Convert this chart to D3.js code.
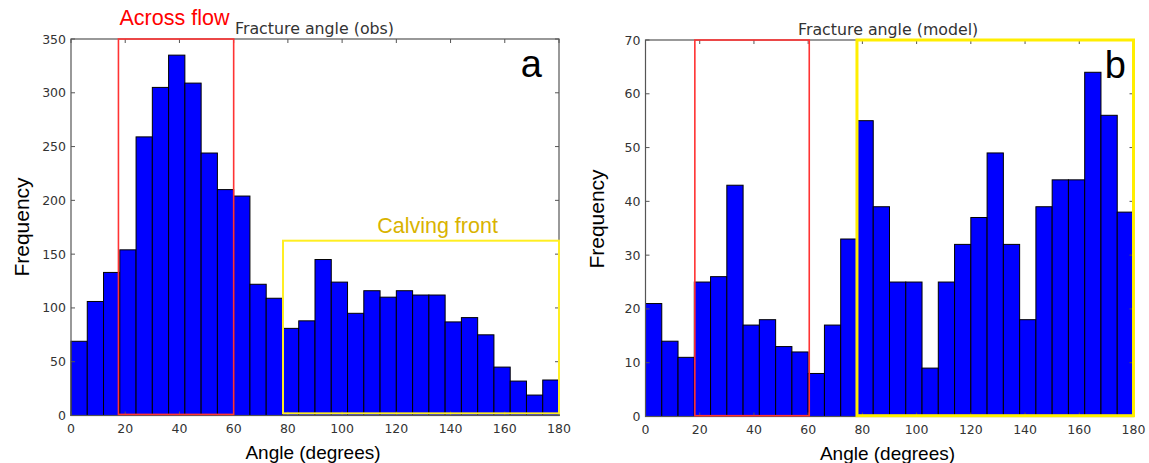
<!DOCTYPE html>
<html>
<head>
<meta charset="utf-8">
<script src="https://cdn.jsdelivr.net/npm/d3@7"></script>
<style>
  body { margin: 0; background: #fff; }
  svg text { font-family: "DejaVu Sans", sans-serif; }
</style>
</head>
<body>
<svg id="chart" width="1149" height="463"></svg>
<script>
// 30 bins of 6 degrees from 0 to 180
var binEdges = d3.range(0, 181, 6);
var obsCounts = [69, 106, 133, 154, 259, 305, 335, 309, 244, 210,
                 204, 122, 109, 81, 88, 145, 124, 95, 116, 110,
                 116, 112, 112, 87, 91, 75, 45, 32, 19, 33];
var modelCounts = [21, 14, 11, 25, 26, 43, 17, 18, 13, 12,
                   8, 17, 33, 55, 39, 25, 25, 9, 25, 32,
                   37, 49, 32, 18, 39, 44, 44, 64, 56, 38];
var xTicks = [0, 20, 40, 60, 80, 100, 120, 140, 160, 180];
var obsTicks = [0, 50, 100, 150, 200, 250, 300, 350];
var modelTicks = [0, 10, 20, 30, 40, 50, 60, 70];

var svg = d3.select("#chart");
var sansArial = "Liberation Sans, Arial, sans-serif";

function drawPanel(opt) {
  var m = opt.box;
  var x = d3.scaleLinear().domain([0, 180]).range([m.left, m.right]);
  var y = d3.scaleLinear().domain([0, opt.yMax]).range([m.bottom, m.top]);
  var g = svg.append("g");

  // bars
  g.selectAll("rect.bar")
    .data(opt.counts)
    .enter().append("rect")
    .attr("class", "bar")
    .attr("x", function (d, i) { return x(binEdges[i]); })
    .attr("width", function (d, i) { return x(binEdges[i + 1]) - x(binEdges[i]); })
    .attr("y", function (d) { return y(d); })
    .attr("height", function (d) { return y(0) - y(d); })
    .attr("fill", "#0000ff")
    .attr("stroke", "#000")
    .attr("stroke-width", 1);

  // frame
  g.append("rect")
    .attr("x", m.left).attr("y", m.top)
    .attr("width", m.right - m.left).attr("height", m.bottom - m.top)
    .attr("fill", "none").attr("stroke", "#555").attr("stroke-width", 1.2);

  // ticks pointing inward, all four sides
  var tl = 4;
  xTicks.forEach(function (t) {
    g.append("line").attr("x1", x(t)).attr("x2", x(t))
      .attr("y1", m.bottom).attr("y2", m.bottom - tl).attr("stroke", "#555");
    g.append("line").attr("x1", x(t)).attr("x2", x(t))
      .attr("y1", m.top).attr("y2", m.top + tl).attr("stroke", "#555");
    g.append("text").attr("x", x(t)).attr("y", m.bottom + 17)
      .attr("text-anchor", "middle").attr("font-size", 12.5)
      .attr("fill", "#333").text(t);
  });
  opt.yTicks.forEach(function (t) {
    g.append("line").attr("x1", m.left).attr("x2", m.left + tl)
      .attr("y1", y(t)).attr("y2", y(t)).attr("stroke", "#555");
    g.append("line").attr("x1", m.right).attr("x2", m.right - tl)
      .attr("y1", y(t)).attr("y2", y(t)).attr("stroke", "#555");
    g.append("text").attr("x", m.left - 5).attr("y", y(t) + 4.5)
      .attr("text-anchor", "end").attr("font-size", 12.5)
      .attr("fill", "#333").text(t);
  });

  // highlight boxes
  opt.boxes.forEach(function (b) {
    g.append("rect")
      .attr("x", x(b.x0)).attr("y", y(b.y1))
      .attr("width", x(b.x1) - x(b.x0)).attr("height", y(b.y0) - y(b.y1))
      .attr("fill", "none").attr("stroke", b.color).attr("stroke-width", b.width);
  });

  // title
  g.append("text").attr("x", opt.titleX).attr("y", m.top - 5)
    .attr("font-size", 15.8).attr("fill", "#333").text(opt.title);

  // axis labels
  g.append("text").attr("x", (m.left + m.right) / 2 - 2).attr("y", m.bottom + 43)
    .attr("text-anchor", "middle").attr("font-size", 19)
    .style("font-family", sansArial)
    .text("Angle (degrees)");
  g.append("text")
    .attr("transform", "translate(" + (m.left - 42) + "," + opt.freqY + ") rotate(-90)")
    .attr("text-anchor", "middle").attr("font-size", 21)
    .style("font-family", sansArial)
    .text("Frequency");

  // panel letter
  g.append("text").attr("x", m.right - opt.letterDx).attr("y", m.top + 38)
    .attr("text-anchor", "end").attr("font-size", 38)
    .style("font-family", sansArial)
    .text(opt.letter);

  return { x: x, y: y };
}

var a = drawPanel({
  box: { left: 71, right: 559, top: 39, bottom: 415.5 },
  counts: obsCounts, yMax: 350, yTicks: obsTicks,
  title: "Fracture angle (obs)", titleX: 235, letter: "a", letterDx: 17, freqY: 227,
  boxes: [
    { x0: 17.5, x1: 60, y0: 1, y1: 350, color: "#ff3333", width: 1.6 },
    { x0: 78.2, x1: 180, y0: 2, y1: 162.5, color: "#ffee22", width: 2 }
  ]
});
svg.append("text").attr("x", a.x(17.9)).attr("y", 25)
  .attr("font-size", 21.5).attr("fill", "#ff0000")
  .style("font-family", sansArial)
  .text("Across flow");
svg.append("text").attr("x", a.x(135.2)).attr("y", a.y(162.5) - 8)
  .attr("text-anchor", "middle")
  .attr("font-size", 21.5).attr("fill", "#d9b300")
  .style("font-family", sansArial)
  .text("Calving front");

drawPanel({
  box: { left: 645.5, right: 1133.5, top: 40, bottom: 416.5 },
  counts: modelCounts, yMax: 70, yTicks: modelTicks,
  title: "Fracture angle (model)", titleX: 798, letter: "b", letterDx: 7.5, freqY: 219,
  boxes: [
    { x0: 18.2, x1: 60.4, y0: 0.15, y1: 70, color: "#ff3333", width: 1.6 },
    { x0: 78, x1: 180, y0: 0.15, y1: 70, color: "#ffee00", width: 3 }
  ]
});
</script>
</body>
</html>
